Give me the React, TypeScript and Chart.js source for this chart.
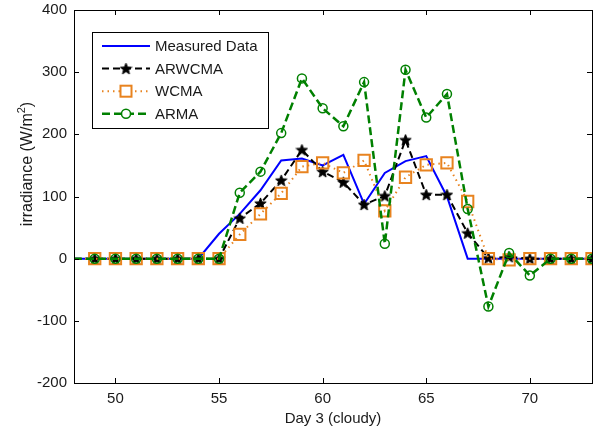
import React, { useEffect, useRef } from "react";
import { Chart, registerables } from "chart.js";
Chart.register(...registerables);

const days = [48, 49, 50, 51, 52, 53, 54, 55, 56, 57, 58, 59, 60, 61, 62, 63, 64, 65, 66, 67, 68, 69, 70, 71, 72, 73];
const measured = [0, 0, 0, 0, 0, 0, 0, 40, 72, 110, 158, 161, 150, 167, 88, 138, 157, 165, 100, 0, 0, 0, 0, 0, 0, 0];
const arwcma = [0, 0, 0, 0, 0, 0, 0, 0, 65, 89, 126, 175, 140, 123, 87, 101, 191, 103, 103, 41, 1, 3, 0, 0, 0, 0];
const wcma = [0, 0, 0, 0, 0, 0, 0, 0, 39, 72, 105, 148, 154, 138, 158, 77, 131, 151, 154, 92, 0, -2, 0, 0, 0, 0];
const arma = [0, 0, 0, 0, 0, 0, 0, 0, 106, 140, 202, 290, 242, 213, 284, 24, 304, 227, 265, 80, -77, 9, -27, 0, 0, 0];
const seriesNames = ["Measured Data", "ARWCMA", "WCMA", "ARMA"];
const xTicks = [50, 55, 60, 65, 70];
const yTicks = [-200, -100, 0, 100, 200, 300, 400];
const xTitle = "Day 3 (cloudy)";
const yTitleMain = "irradiance (W/m";
const yTitleSup = "2";
const yTitleEnd = ")";

const FONT = '"Liberation Sans", Arial, sans-serif';
const TEXT = "#1a1a1a";
const BLUE = "#0000ff";
const BLACK = "#000000";
const ORANGE = "#e8831f";
const GREEN = "#008000";

function makeStar(size: number): HTMLCanvasElement {
  const c = document.createElement("canvas");
  c.width = size;
  c.height = size;
  const g = c.getContext("2d")!;
  const cx = size / 2, cy = size / 2 + 0.5, R = size / 2 - 0.5, r = R * 0.42;
  g.beginPath();
  for (let i = 0; i < 10; i++) {
    const ang = -Math.PI / 2 + (i * Math.PI) / 5;
    const rad = i % 2 === 0 ? R : r;
    g.lineTo(cx + rad * Math.cos(ang), cy + rad * Math.sin(ang));
  }
  g.closePath();
  g.fillStyle = BLACK;
  g.fill();
  g.strokeStyle = BLACK;
  g.lineWidth = 1;
  g.stroke();
  return c;
}

export default function App() {
  const ref = useRef<HTMLCanvasElement | null>(null);
  useEffect(() => {
    document.body.style.margin = "0";
    const star = makeStar(13);
    const toPts = (arr: number[]) => arr.map((v, i) => ({ x: days[i], y: v }));
    const hideFirst = (r: number) => (ctx: any) => (ctx.dataIndex === 0 ? 0 : r);

    const styles = [
      { color: BLUE, dash: [] as number[], width: 2, marker: "none" },
      { color: BLACK, dash: [7, 4], width: 2, marker: "star" },
      { color: ORANGE, dash: [1.5, 4], width: 2, marker: "square" },
      { color: GREEN, dash: [8, 4], width: 2.5, marker: "circle" },
    ];

    const zeroPad = (s: any) => {
      s.paddingLeft = 0;
      s.paddingRight = 0;
      s.paddingTop = 0;
      s.paddingBottom = 0;
    };

    const boxPlugin = {
      id: "boxPlugin",
      afterDraw(chart: any) {
        const { ctx, chartArea: a, scales } = chart;
        ctx.save();
        ctx.strokeStyle = "#000";
        ctx.lineWidth = 1;
        ctx.setLineDash([]);
        ctx.strokeRect(Math.round(a.left) + 0.5, Math.round(a.top) + 0.5, Math.round(a.right - a.left), Math.round(a.bottom - a.top));
        const tl = 5;
        ctx.beginPath();
        for (const v of xTicks) {
          const px = Math.round(scales.x.getPixelForValue(v)) + 0.5;
          ctx.moveTo(px, a.bottom);
          ctx.lineTo(px, a.bottom - tl);
          ctx.moveTo(px, a.top);
          ctx.lineTo(px, a.top + tl);
        }
        for (const v of yTicks) {
          const py = Math.round(scales.y.getPixelForValue(v)) + 0.5;
          ctx.moveTo(a.left, py);
          ctx.lineTo(a.left + tl, py);
          ctx.moveTo(a.right, py);
          ctx.lineTo(a.right - tl, py);
        }
        ctx.stroke();

        // axis titles
        ctx.fillStyle = TEXT;
        ctx.font = `15px ${FONT}`;
        ctx.textAlign = "center";
        ctx.textBaseline = "middle";
        ctx.fillText(xTitle, (a.left + a.right) / 2, 419);

        ctx.save();
        ctx.translate(27, 164);
        ctx.rotate(-Math.PI / 2);
        ctx.font = `16px ${FONT}`;
        const w1 = ctx.measureText(yTitleMain).width;
        ctx.font = `11px ${FONT}`;
        const w2 = ctx.measureText(yTitleSup).width;
        ctx.font = `16px ${FONT}`;
        const w3 = ctx.measureText(yTitleEnd).width;
        const total = w1 + w2 + w3;
        const x0 = -total / 2;
        ctx.textAlign = "left";
        ctx.textBaseline = "alphabetic";
        ctx.fillText(yTitleMain, x0, 5);
        ctx.font = `11px ${FONT}`;
        ctx.fillText(yTitleSup, x0 + w1, -2);
        ctx.font = `16px ${FONT}`;
        ctx.fillText(yTitleEnd, x0 + w1 + w2, 5);
        ctx.restore();

        // legend
        const lx = 92, ly = 32, lw = 176, lh = 96;
        ctx.fillStyle = "#ffffff";
        ctx.fillRect(lx, ly, lw, lh);
        ctx.strokeStyle = "#000";
        ctx.lineWidth = 1;
        ctx.strokeRect(lx + 0.5, ly + 0.5, lw, lh);
        seriesNames.forEach((name, i) => {
          const s = styles[i];
          const y = 46 + i * 22.6;
          ctx.strokeStyle = s.color;
          ctx.lineWidth = s.width;
          ctx.setLineDash(s.dash);
          ctx.beginPath();
          ctx.moveTo(102, y);
          ctx.lineTo(150, y);
          ctx.stroke();
          ctx.setLineDash([]);
          const mx = 126;
          if (s.marker === "star") {
            ctx.drawImage(star, mx - star.width / 2, y - star.height / 2);
          } else if (s.marker === "square") {
            ctx.fillStyle = "#fff";
            ctx.fillRect(mx - 5.5, y - 5.5, 11, 11);
            ctx.strokeStyle = s.color;
            ctx.lineWidth = 2;
            ctx.strokeRect(mx - 5.5, y - 5.5, 11, 11);
          } else if (s.marker === "circle") {
            ctx.fillStyle = "#fff";
            ctx.beginPath();
            ctx.arc(mx, y, 4.5, 0, Math.PI * 2);
            ctx.fill();
            ctx.strokeStyle = s.color;
            ctx.lineWidth = 1.5;
            ctx.stroke();
          }
          ctx.fillStyle = TEXT;
          ctx.font = `15px ${FONT}`;
          ctx.textAlign = "left";
          ctx.textBaseline = "middle";
          ctx.fillText(name, 155, y + 1);
        });
        ctx.restore();
      },
    };

    const chart = new Chart(ref.current!, {
      type: "line",
      data: {
        datasets: [
          {
            label: seriesNames[0],
            data: toPts(measured),
            borderColor: BLUE,
            borderWidth: styles[0].width,
            pointRadius: 0,
            fill: false,
            tension: 0,
            order: 4,
          },
          {
            label: seriesNames[1],
            data: toPts(arwcma),
            borderColor: BLACK,
            borderWidth: styles[1].width,
            borderDash: styles[1].dash,
            pointStyle: star as any,
            pointRadius: hideFirst(6) as any,
            fill: false,
            tension: 0,
            order: 3,
          },
          {
            label: seriesNames[2],
            data: toPts(wcma),
            borderColor: ORANGE,
            borderWidth: styles[2].width,
            borderDash: styles[2].dash,
            pointStyle: "rect",
            pointRadius: hideFirst(8) as any,
            pointBorderWidth: 2,
            pointBorderColor: ORANGE,
            pointBackgroundColor: "rgba(0,0,0,0)",
            fill: false,
            tension: 0,
            order: 2,
          },
          {
            label: seriesNames[3],
            data: toPts(arma),
            borderColor: GREEN,
            borderWidth: styles[3].width,
            borderDash: styles[3].dash,
            pointStyle: "circle",
            pointRadius: hideFirst(4.5) as any,
            pointBorderWidth: 1.5,
            pointBorderColor: GREEN,
            pointBackgroundColor: "rgba(0,0,0,0)",
            fill: false,
            tension: 0,
            order: 1,
          },
        ],
      },
      options: {
        responsive: false,
        animation: false,
        devicePixelRatio: 1,
        layout: { autoPadding: false, padding: { top: 10, right: 3, left: 0, bottom: 0 } },
        plugins: { legend: { display: false }, tooltip: { enabled: false } },
        scales: {
          x: {
            type: "linear",
            min: 48,
            max: 73,
            grid: { display: false, drawTicks: false },
            border: { display: false },
            ticks: { padding: 7, color: TEXT, font: { family: FONT, size: 15 } },
            afterBuildTicks: (s: any) => {
              s.ticks = xTicks.map((v) => ({ value: v }));
            },
            afterFit: (s: any) => {
              s.height = 51;
              zeroPad(s);
            },
          },
          y: {
            type: "linear",
            min: -200,
            max: 400,
            grid: { display: false, drawTicks: false },
            border: { display: false },
            ticks: { padding: 7, color: TEXT, font: { family: FONT, size: 15 } },
            afterBuildTicks: (s: any) => {
              s.ticks = yTicks.map((v) => ({ value: v }));
            },
            afterFit: (s: any) => {
              s.width = 74;
              zeroPad(s);
            },
          },
        },
      },
      plugins: [boxPlugin],
    });
    return () => chart.destroy();
  }, []);

  return (
    <div style={{ width: 595, height: 434, background: "#fff" }}>
      <canvas ref={ref} width={595} height={434} style={{ display: "block", width: 595, height: 434 }} />
    </div>
  );
}
